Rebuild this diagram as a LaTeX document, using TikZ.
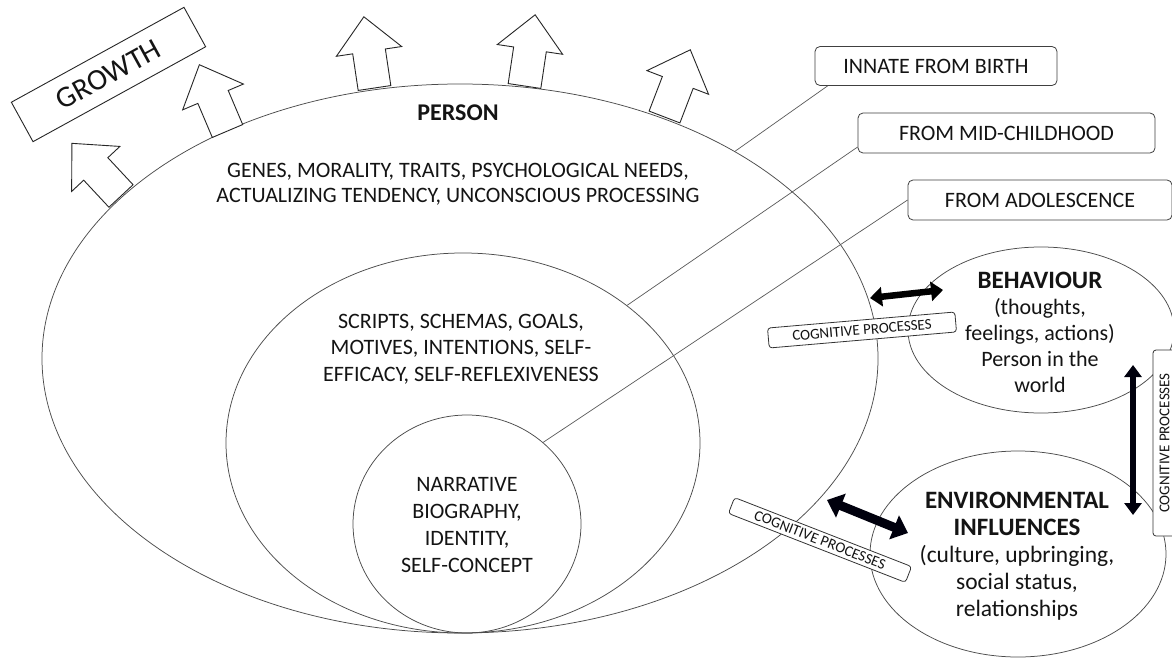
\documentclass[tikz,border=0pt]{standalone}
\usepackage{fontspec}
\setmainfont{Carlito}
\usetikzlibrary{shapes.geometric,arrows.meta}
\tikzset{
  ell/.style={ellipse, draw=black!70, line width=0.75pt, inner sep=0pt},
  txt/.style={align=center, text=black!92, inner sep=0pt},
  lbl/.style={draw=black!75, fill=white, rounded corners=5pt, line width=0.8pt, inner sep=0pt, minimum height=39pt, text=black!92, font=\fontsize{22}{26}\selectfont},
  cogbox/.style={draw=black!80, fill=white, rounded corners=3pt, line width=0.8pt, inner sep=0pt, text=black!92, font=\fontsize{15}{17}\selectfont},
  link/.style={draw=black!65, line width=0.7pt},
  growarrow/.pic={\draw[draw=black!85, fill=white, line width=0.9pt, line join=miter] (-16.5,0) -- (-16.5,-37) -- (-33,-37) -- (0,-72) -- (33,-37) -- (16.5,-37) -- (16.5,0) -- cycle;},
  harr/.style={draw=black, line width=6.5pt, arrows={Triangle[length=12pt,width=19pt]-Triangle[length=12pt,width=19pt]}},
  varr/.style={draw=black!95!blue, line width=6pt, arrows={Triangle[length=12pt,width=17pt]-Triangle[length=12pt,width=17pt]}},
  darr/.style={draw=black!95!blue, line width=9pt, arrows={Triangle[length=15pt,width=25pt]-Triangle[length=15pt,width=25pt]}},
}
\begin{document}
\begin{tikzpicture}[x=1pt,y=-1pt]
\useasboundingbox (0,0) rectangle (1172,658);
\fill[white] (0,0) rectangle (1172,658);

% ellipses
\node[ell, minimum width=836pt, minimum height=549pt] (person) at (460,358.5) {};
\node[ell, minimum width=474pt, minimum height=380pt] (mid) at (463,443) {};
\node[ell, minimum width=228pt, minimum height=218pt] (inner) at (467,524) {};
\node[ell, minimum width=266pt, minimum height=166pt] (beh) at (1041,330) {};
\node[ell, minimum width=296pt, minimum height=206pt] (env) at (1018,554) {};

% texts
\node[txt, font=\bfseries\fontsize{24}{28}\selectfont] (ptitle) at (458,113) {PERSON};
\node[txt, font=\fontsize{22}{25}\selectfont] (genes) at (458,184) {GENES, MORALITY, TRAITS, PSYCHOLOGICAL NEEDS,\\ACTUALIZING TENDENCY, UNCONSCIOUS PROCESSING};
\node[txt, font=\fontsize{22}{26.5}\selectfont] (scripts) at (461,349) {SCRIPTS, SCHEMAS, GOALS,\\MOTIVES, INTENTIONS, SELF-\\EFFICACY, SELF-REFLEXIVENESS};
\node[txt, font=\fontsize{22}{27.3}\selectfont] (narr) at (467,525) {NARRATIVE\\BIOGRAPHY,\\IDENTITY,\\SELF-CONCEPT};
\node[txt, font=\fontsize{22}{26}\selectfont] (behtxt) at (1040,332) {{\bfseries\fontsize{25}{30}\selectfont BEHAVIOUR}\\(thoughts,\\feelings, actions)\\Person in the\\world};
\node[txt, font=\fontsize{23.5}{27}\selectfont] (envtxt) at (1017,556) {{\bfseries\fontsize{25}{28}\selectfont ENVIRONMENTAL}\\{\bfseries\fontsize{25}{28}\selectfont INFLUENCES}\\(culture, upbringing,\\social status,\\relationships};

% label boxes
\node[lbl, minimum width=242pt] (innate) at (936,66) {INNATE FROM BIRTH};
\node[lbl, minimum width=297pt, minimum height=40pt] (midch) at (1006.5,133) {FROM MID-CHILDHOOD};
\node[lbl, minimum width=264pt, minimum height=40pt] (adol) at (1040,200) {FROM ADOLESCENCE};

\draw[link] ([xshift=13pt]innate.south west) -- (person.37.2);
\draw[link] ([yshift=-14pt]midch.west) -- (mid.40.8);
\draw[link] (adol.west) -- (inner.47.1);

% growth arrows
\pic[rotate=43] at (121,196) {growarrow};
\pic[rotate=23] at (227.5,131) {growarrow};
\pic[rotate=8.5] at (374.5,88) {growarrow};
\pic[rotate=-8.5] at (524.5,86) {growarrow};
\pic[rotate=-21] at (664.5,117) {growarrow};

\node[draw=black!85, fill=white, line width=0.9pt, rotate=28.8, minimum width=197pt, minimum height=45pt, inner sep=0pt, font=\fontsize{30}{34}\selectfont, text=black!92] (growth) at (108.5,74.5) {GROWTH};

% double arrows
\coordinate (h1) at (870,298); \coordinate (h2) at (943,290);
\draw[harr] (h1) -- (h2);
\coordinate (v1) at (1133,365); \coordinate (v2) at (1133,515);
\draw[varr] (v1) -- (v2);
\coordinate (d1) at (827,500); \coordinate (d2) at (908,533);
\draw[darr] (d1) -- (d2);

% cognitive processes boxes
\node[cogbox, rotate=4.9, minimum width=188pt, minimum height=20pt] (cog1) at (862,330) {COGNITIVE PROCESSES};
\node[cogbox, rotate=-21.3, minimum width=190pt, minimum height=17pt] (cog2) at (820,540) {COGNITIVE PROCESSES};
\node[cogbox, rotate=90, minimum width=186pt, minimum height=23pt] (cog3) at (1164.5,443) {COGNITIVE PROCESSES};
\end{tikzpicture}
\end{document}
